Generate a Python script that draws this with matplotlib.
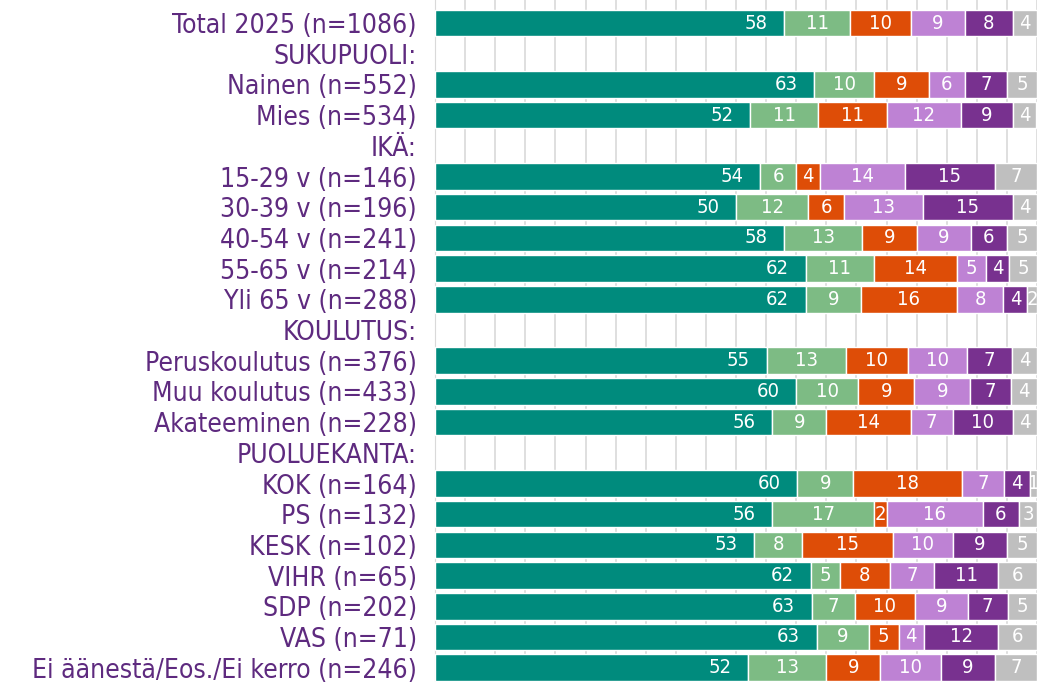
import matplotlib
matplotlib.use("Agg")
import matplotlib.pyplot as plt

# ---- data ----
categories = [
    "Total 2025 (n=1086)", "SUKUPUOLI:", "Nainen (n=552)", "Mies (n=534)",
    "IKÄ:", "15-29 v (n=146)", "30-39 v (n=196)", "40-54 v (n=241)",
    "55-65 v (n=214)", "Yli 65 v (n=288)", "KOULUTUS:",
    "Peruskoulutus (n=376)", "Muu koulutus (n=433)", "Akateeminen (n=228)",
    "PUOLUEKANTA:", "KOK (n=164)", "PS (n=132)", "KESK (n=102)",
    "VIHR (n=65)", "SDP (n=202)", "VAS (n=71)",
    "Ei äänestä/Eos./Ei kerro (n=246)",
]

# one list per series, None = header row (no bar)
s1 = [58, None, 63, 52.3, None, 54, 50, 58, 61.6, 61.6, None, 55.1, 60.0, 56,
      None, 60.2, 56, 53, 62.4, 62.6, 63.4, 52]
s2 = [11, None, 10, 11.4, None, 6, 12, 13, 11.3, 9.1, None, 13.2, 10.3, 9,
      None, 9.3, 17, 8, 4.9, 7.2, 8.7, 13]
s3 = [10, None, 9, 11.3, None, 4, 6, 9, 13.8, 16.0, None, 10.2, 9.3, 14,
      None, 18.0, 2, 15, 8.2, 9.9, 4.9, 9]
s4 = [9, None, 6, 12.4, None, 14, 13, 9, 4.8, 7.7, None, 9.9, 9.3, 7,
      None, 7.0, 16, 10, 7.4, 8.8, 4.2, 10]
s5 = [8, None, 7, 8.6, None, 15, 15, 6, 3.9, 4.0, None, 7.4, 6.7, 10,
      None, 4.4, 6, 9, 10.7, 6.6, 12.4, 9]
s6 = [4, None, 5, 3.9, None, 7, 4, 5, 4.6, 1.6, None, 4.2, 4.4, 4,
      None, 1.1, 3, 5, 6.4, 4.9, 6.4, 7]

series = [s1, s2, s3, s4, s5, s6]
colors = ["#008B7D", "#7DBB84", "#DE4D07", "#BE82D4", "#78318F", "#BFBFBF"]
LABEL_COLOR = "#5E2A7F"
# ----------------

fig = plt.figure(figsize=(10.52, 6.82), dpi=100)
# rows are ~30.7 px apart, first row centre at y=23 px; chart runs off the top/bottom
row_px = 30.7
top_px = 23 - row_px * 1.0
bot_px = 23 + row_px * 22.5
ax = fig.add_axes([435 / 1052, 1 - bot_px / 682, 602 / 1052, (bot_px - top_px) / 682])

n = len(categories)
ys = list(range(n))

for i, y in enumerate(ys):
    if s1[i] is None:
        continue
    left = 0
    for k, (vals, col) in enumerate(zip(series, colors)):
        v = vals[i]
        bar = ax.barh(y, v, left=left, height=0.86, color=col,
                      edgecolor="white", linewidth=1.0, zorder=3)[0]
        if k == 0:
            # first segment: label sits inside the end of the bar
            t = ax.annotate(f"{v:.0f}", xy=(left + v, y), xytext=(-12, 0),
                            textcoords="offset points", ha="right", va="center",
                            color="white", fontsize=14.5, fontstretch="condensed",
                            zorder=4)
        else:
            t = ax.text(left + v / 2, y, f"{v:.0f}", ha="center", va="center",
                        color="white", fontsize=14.5, fontstretch="condensed",
                        zorder=4)
        t.set_clip_path(bar)
        left += v

ax.set_xlim(0, 100)
ax.set_ylim(22.5, -1.0)
ax.set_xticks(range(0, 101, 5))
ax.xaxis.grid(True, color="#D9D9D9", linewidth=1.2, zorder=0)
ax.set_axisbelow(True)
ax.tick_params(axis="x", length=0, labelbottom=False)
ax.tick_params(axis="y", length=0, pad=13)
ax.set_yticks(ys)
ax.set_yticklabels(categories, color=LABEL_COLOR, fontsize=19,
                   fontstretch="condensed")
for side in ["top", "right", "bottom"]:
    ax.spines[side].set_visible(False)
ax.spines["left"].set_color("#D9D9D9")

plt.savefig("out.png", dpi=100)
plt.close()
